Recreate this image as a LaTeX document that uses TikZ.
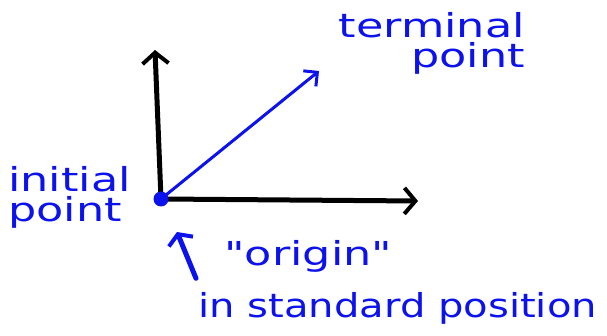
\documentclass[tikz,border=0pt]{standalone}
\usepackage{fontspec}
\setmainfont{DejaVu Sans}[Ligatures=TeXOff]
\usepackage{xcolor}
\usetikzlibrary{arrows.meta,positioning}
\definecolor{inkblue}{RGB}{12,18,238}

\begin{document}
\begin{tikzpicture}[
    x=1pt, y=-1pt,
    note/.style={text=inkblue, font=\fontsize{33}{38}\selectfont, inner sep=0pt, xscale=1.35, transform shape},
    axis/.style={draw=black, line width=5pt, line cap=round, -{Straight Barb[length=11pt, width=26pt, line width=4pt]}},
    vec/.style={draw=inkblue, line width=3pt, line cap=round, -{Straight Barb[length=10pt, width=20pt, line width=3pt]}},
    pointer/.style={draw=inkblue, line width=5pt, line cap=round, -{Straight Barb[length=8pt, width=26pt, line width=4pt]}},
    dot/.style={circle, fill=inkblue, minimum size=15pt, inner sep=0pt}
]
\useasboundingbox (0,0) rectangle (607,336);
\coordinate (o) at (161,199);
\coordinate (yend) at (155,50);
\coordinate (xend) at (418,201);
\coordinate (tip) at (319,71);
\coordinate (upmark) at (177,232);

\draw[axis] (o) -- (yend);
\draw[axis] (o) -- (xend);
\node[dot] (origin) at (o) {};
\draw[vec] (origin.center) -- (tip);

\node[note, anchor=north east, align=right] (terminal) at (525,12) {terminal\\[-8pt]point};
\node[note, anchor=north west, align=left] (initial) at (8,166) {initial\\[-8pt]point};
\node[note, anchor=north west] (quote) at (224,240) {"origin"};
\node[note, anchor=north west, xscale=0.9] (standard) at (198,292) {in standard position};
\draw[pointer] ([xshift=-28pt, yshift=-6pt]quote.south west) -- (upmark);
\end{tikzpicture}
\end{document}
